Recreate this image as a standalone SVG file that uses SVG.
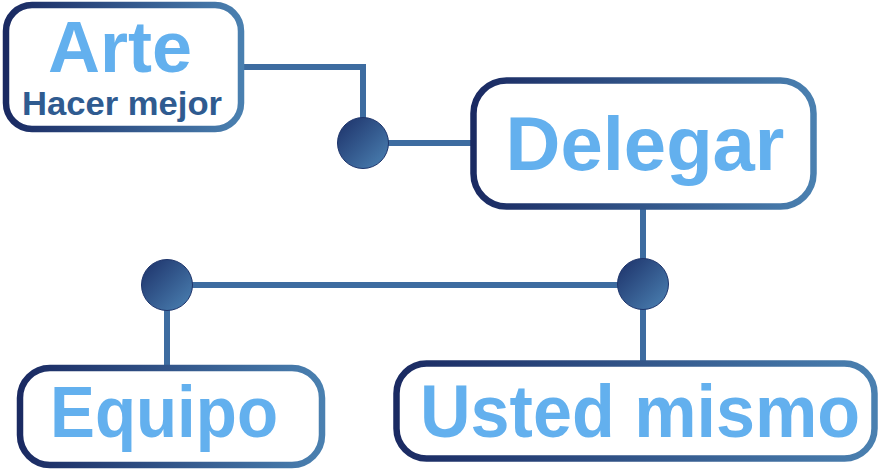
<svg xmlns="http://www.w3.org/2000/svg" width="879" height="469" viewBox="0 0 879 469">
<style>
.box{fill:#ffffff;stroke:url(#bg);stroke-width:6.5}
.big{font-family:"Liberation Sans",Arial,sans-serif;font-weight:bold;fill:#63b0ee;text-anchor:middle}
.sub{font-family:"Liberation Sans",Arial,sans-serif;font-weight:bold;fill:#2f5b90;text-anchor:middle}
.ln{stroke:#3d6ca0;stroke-width:6;fill:none}
.dot{fill:url(#cg);stroke:#1e356c;stroke-width:1}
</style>
<defs>
<linearGradient id="bg" x1="0" y1="0" x2="1" y2="0">
<stop offset="0" stop-color="#1a2a62"/>
<stop offset="1" stop-color="#4a80b0"/>
</linearGradient>
<linearGradient id="cg" x1="0" y1="0" x2="1" y2="1">
<stop offset="0" stop-color="#1c3068"/>
<stop offset="1" stop-color="#4c83b4"/>
</linearGradient>
</defs>
<g id="connectors">
<path class="ln" d="M243 67 H363 V143"/>
<path class="ln" d="M363 143 H473"/>
<path class="ln" d="M643 207 V365"/>
<path class="ln" d="M167 285 H643"/>
<path class="ln" d="M167 285 V368"/>
</g>
<g id="arte">
<rect class="box" x="6" y="5" width="235" height="124" rx="26"/>
<text class="big" x="120" y="72" font-size="72">Arte</text>
<text class="sub" x="122" y="115" font-size="33" textLength="200" lengthAdjust="spacingAndGlyphs">Hacer mejor</text>
</g>
<g id="delegar">
<rect class="box" x="473.5" y="80.5" width="340" height="126" rx="33"/>
<text class="big" x="645" y="170" font-size="76">Delegar</text>
</g>
<g id="equipo">
<rect class="box" x="20" y="368" width="302" height="97" rx="30"/>
<text class="big" x="164" y="437" font-size="72" textLength="228" lengthAdjust="spacingAndGlyphs">Equipo</text>
</g>
<g id="usted">
<rect class="box" x="396.5" y="363.5" width="478" height="95" rx="30"/>
<text class="big" x="640" y="437" font-size="74" textLength="440" lengthAdjust="spacingAndGlyphs">Usted mismo</text>
</g>
<g id="dot1"><circle class="dot" cx="363" cy="143" r="25.5"/></g>
<g id="dot2"><circle class="dot" cx="643" cy="284" r="25.5"/></g>
<g id="dot3"><circle class="dot" cx="167" cy="285" r="25.5"/></g>
</svg>
